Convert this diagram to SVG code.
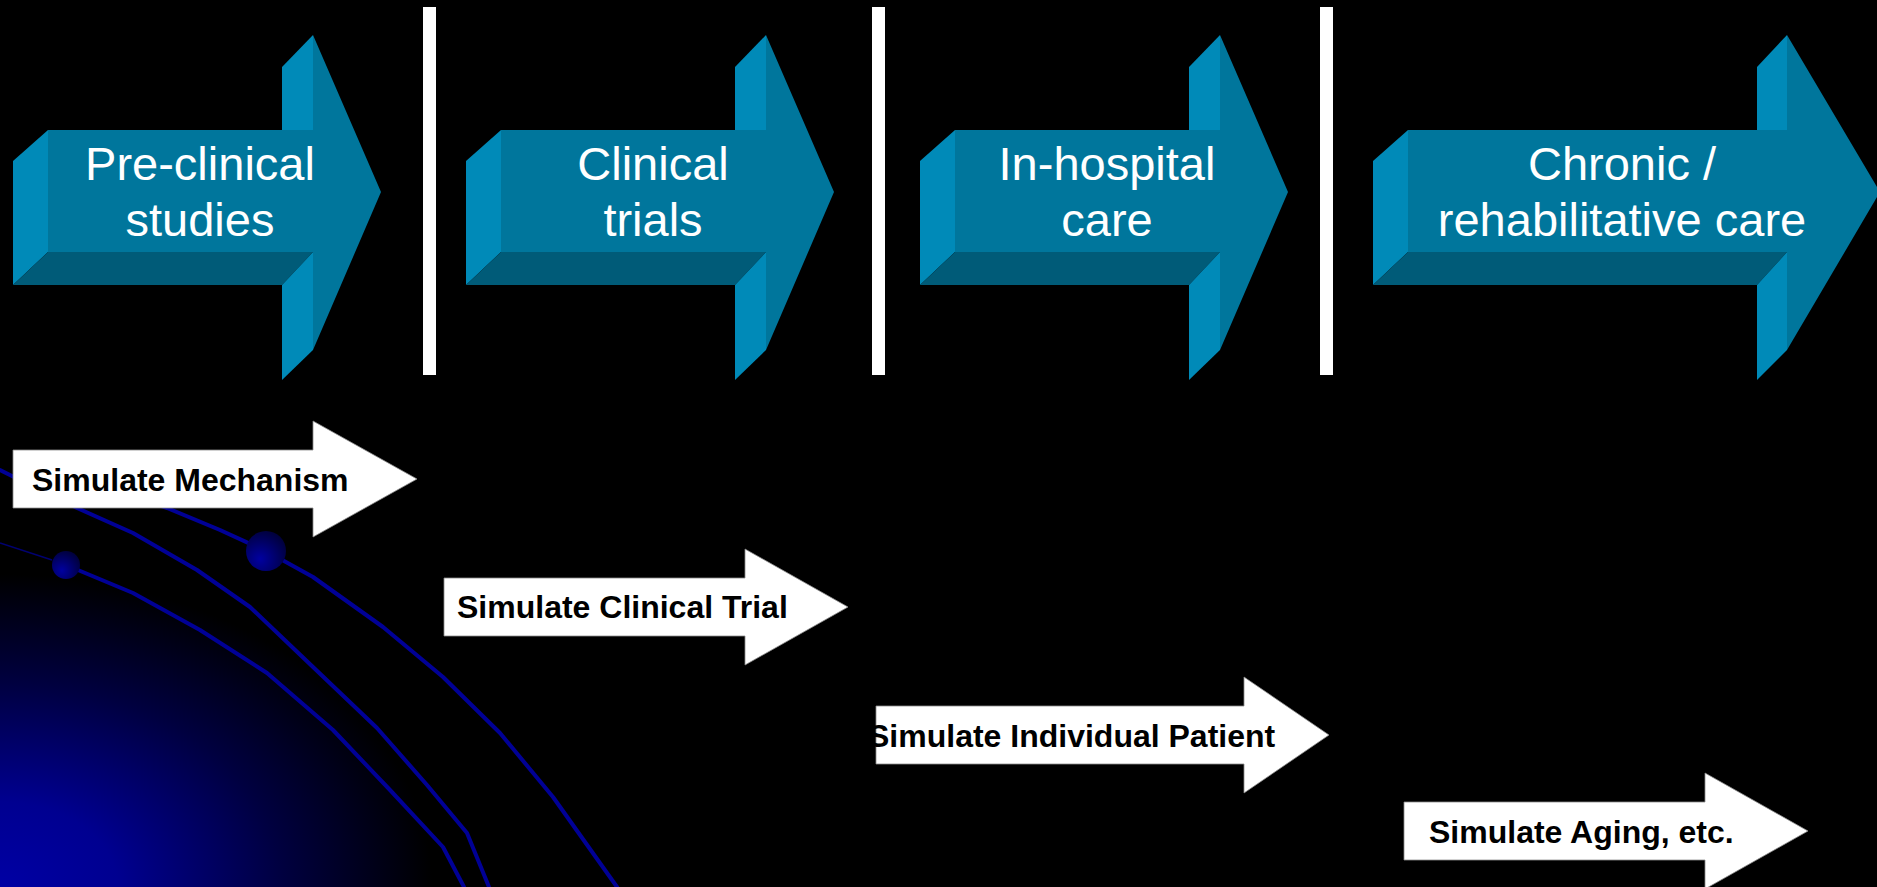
<svg xmlns="http://www.w3.org/2000/svg" width="1877" height="887" viewBox="0 0 1877 887">
<defs>
<radialGradient id="glow" gradientUnits="userSpaceOnUse" cx="0" cy="0" r="1" gradientTransform="translate(0,887) scale(470,340)">
<stop offset="0" stop-color="#0000a4"/>
<stop offset="0.25" stop-color="#000090"/>
<stop offset="0.6" stop-color="#000040"/>
<stop offset="0.92" stop-color="#000000"/>
</radialGradient>
<radialGradient id="dot" cx="0.35" cy="0.7" r="0.75">
<stop offset="0" stop-color="#0000a0"/>
<stop offset="1" stop-color="#00003a"/>
</radialGradient>
<style>
.bg{fill:#000}
.curve{fill:none;stroke:#000096;stroke-width:4;stroke-linejoin:round;stroke-linecap:round}
.thin{fill:none;stroke:#000070;stroke-width:1.5}
.front{fill:#00769c}
.side{fill:#008ab8}
.bottom{fill:#005b78}
.bar{fill:#fff}
.warrow{fill:#fff;stroke:#8a8a8a;stroke-width:0.8}
.blabel{font-family:"Liberation Sans",Arial,sans-serif;font-size:47px;fill:#fff;text-anchor:middle}
.wlabel{font-family:"Liberation Sans",Arial,sans-serif;font-size:32px;font-weight:bold;fill:#000}
</style>
</defs>
<rect class="bg" x="0" y="0" width="1877" height="887"/>
<rect x="0" y="400" width="700" height="487" fill="url(#glow)"/>

<g id="decor">
<polyline class="thin" points="0,543 52,560"/>
<polyline class="curve" points="140,498 167,508 220,530 266,551 313,577 383,627 443,677 500,733 553,797 585,842 617,887"/>
<polyline class="curve" points="0,470 40,490 77,508 133,533 197,570 250,607 313,667 377,728 427,785 467,833 489,887"/>
<polyline class="curve" points="66,565 133,593 200,630 267,673 333,730 390,790 443,847 464,887"/>
<circle cx="266" cy="551" r="20" fill="url(#dot)"/>
<circle cx="66" cy="565" r="14" fill="url(#dot)"/>
</g>

<g id="bars">
<rect class="bar" x="423" y="7" width="13" height="368"/>
<rect class="bar" x="872" y="7" width="13" height="368"/>
<rect class="bar" x="1320" y="7" width="13" height="368"/>
</g>

<g id="stage1">
<polygon class="side" points="13,161 48,130 48,252 13,285"/>
<polygon class="bottom" points="13,285 48,252 313,252 282,285"/>
<polygon class="side" points="282,67 313,35 313,130 282,161"/>
<polygon class="side" points="282,285 313,252 313,350 282,380"/>
<polygon class="front" points="48,130 313,130 313,35 381,192 313,350 313,252 48,252"/>
<text class="blabel" x="200" y="180">Pre-clinical</text>
<text class="blabel" x="200" y="236">studies</text>
</g>

<g id="stage2" transform="translate(453,0)">
<polygon class="side" points="13,161 48,130 48,252 13,285"/>
<polygon class="bottom" points="13,285 48,252 313,252 282,285"/>
<polygon class="side" points="282,67 313,35 313,130 282,161"/>
<polygon class="side" points="282,285 313,252 313,350 282,380"/>
<polygon class="front" points="48,130 313,130 313,35 381,192 313,350 313,252 48,252"/>
<text class="blabel" x="200" y="180">Clinical</text>
<text class="blabel" x="200" y="236">trials</text>
</g>

<g id="stage3" transform="translate(907,0)">
<polygon class="side" points="13,161 48,130 48,252 13,285"/>
<polygon class="bottom" points="13,285 48,252 313,252 282,285"/>
<polygon class="side" points="282,67 313,35 313,130 282,161"/>
<polygon class="side" points="282,285 313,252 313,350 282,380"/>
<polygon class="front" points="48,130 313,130 313,35 381,192 313,350 313,252 48,252"/>
<text class="blabel" x="200" y="180">In-hospital</text>
<text class="blabel" x="200" y="236">care</text>
</g>

<g id="stage4">
<polygon class="side" points="1373,161 1408,130 1408,252 1373,285"/>
<polygon class="bottom" points="1373,285 1408,252 1787,252 1757,285"/>
<polygon class="side" points="1757,67 1787,35 1787,130 1757,161"/>
<polygon class="side" points="1757,285 1787,252 1787,350 1757,380"/>
<polygon class="front" points="1408,130 1787,130 1787,35 1880,192 1787,350 1787,252 1408,252"/>
<text class="blabel" x="1622" y="180">Chronic /</text>
<text class="blabel" x="1622" y="236">rehabilitative care</text>
</g>

<g id="sim1">
<polygon class="warrow" points="13,450 313,450 313,421 417,479 313,537 313,508 13,508"/>
<text class="wlabel" x="32" y="491">Simulate Mechanism</text>
</g>
<g id="sim2">
<polygon class="warrow" points="444,578 745,578 745,549 848,607 745,665 745,636 444,636"/>
<text class="wlabel" x="457" y="618">Simulate Clinical Trial</text>
</g>
<g id="sim3">
<polygon class="warrow" points="876,706 1244,706 1244,677 1329,735 1244,793 1244,764 876,764"/>
<text class="wlabel" x="868" y="747">Simulate Individual Patient</text>
</g>
<g id="sim4">
<polygon class="warrow" points="1404,802 1705,802 1705,773 1808,831 1705,889 1705,860 1404,860"/>
<text class="wlabel" x="1429" y="843">Simulate Aging, etc.</text>
</g>
</svg>
